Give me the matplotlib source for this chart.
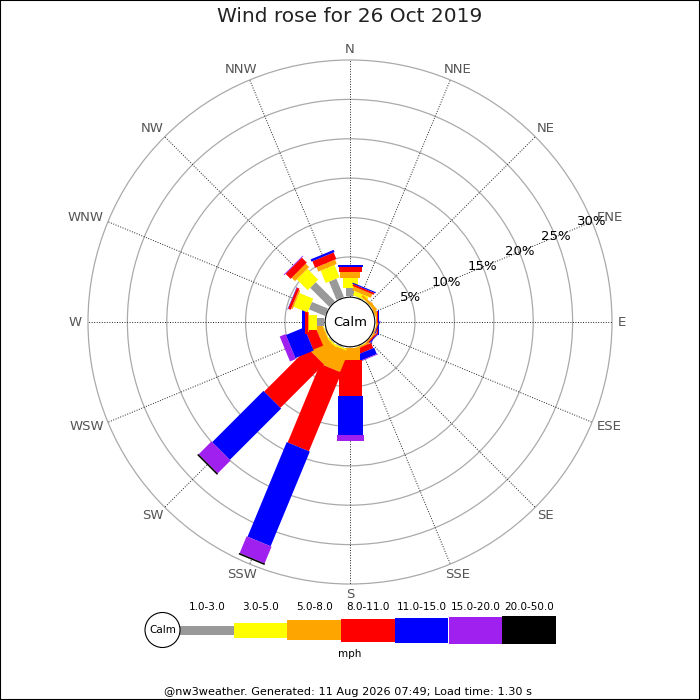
import numpy as np
import matplotlib
matplotlib.use('Agg')
import matplotlib.pyplot as plt
from matplotlib.patches import Rectangle, Circle

# wind rose data, % of time per direction and speed class
directions = ['N', 'NNE', 'NE', 'ENE', 'E', 'ESE', 'SE', 'SSE',
              'S', 'SSW', 'SW', 'WSW', 'W', 'WNW', 'NW', 'NNW']
speed_classes = ['1.0-3.0', '3.0-5.0', '5.0-8.0', '8.0-11.0',
                 '11.0-15.0', '15.0-20.0', '20.0-50.0']
class_colors = ['#999999', '#ffff00', '#ffa500', '#ff0000',
                '#0000ff', '#a020f0', '#000000']

#                  N     NNE   NE    ENE   E     ESE   SE    SSE   S     SSW   SW    WSW   W     WNW   NW    NNW
freq_1_3   = [1.03, 0.05, 0.0,  0.0,  0.0,  0.0,  0.0,  0.0,  0.0,  0.1,  0.1,  0.05, 1.0,  2.2,  3.4,  2.5]
freq_3_5   = [1.27, 0.55, 0.05, 0.0,  0.0,  0.0,  0.0,  0.05, 0.1,  0.2,  0.2,  0.1,  1.0,  1.9,  1.95, 1.7]
freq_5_8   = [0.76, 0.5,  0.3,  0.3,  0.2,  0.15, 0.15, 0.2,  1.5,  2.8,  2.6,  0.9,  0.1,  0.2,  0.6,  0.6]
freq_8_11  = [0.71, 0.25, 0.0,  0.0,  0.1,  0.05, 0.15, 0.7,  4.5,  10.8, 7.8,  1.35, 0.3,  0.35, 0.9,  0.9]
freq_11_15 = [0.2,  0.15, 0.0,  0.0,  0.1,  0.1,  0.1,  0.85, 5.0,  13.0, 9.2,  2.5,  0.4,  0.05, 0.0,  0.3]
freq_15_20 = [0.0,  0.0,  0.0,  0.0,  0.0,  0.0,  0.0,  0.1,  0.7,  2.3,  2.3,  0.8,  0.1,  0.0,  0.1,  0.0]
freq_20_50 = [0.0,  0.0,  0.0,  0.0,  0.0,  0.0,  0.0,  0.0,  0.0,  0.2,  0.2,  0.0,  0.0,  0.0,  0.0,  0.0]
freqs = [freq_1_3, freq_3_5, freq_5_8, freq_8_11, freq_11_15, freq_15_20, freq_20_50]

ring_values = [5, 10, 15, 20, 25, 30]

# geometry (in pixels of a 700x700 figure)
px_per_pct = 7.88
calm_r = 3.25            # radius of the calm hole, in % units
bar_px = [8, 15, 20, 23, 25, 27, 28]

fig = plt.figure(figsize=(7, 7), dpi=100)
ax = fig.add_axes([0, 0, 1, 1])
ax.set_xlim(-350 / px_per_pct, 350 / px_per_pct)
ax.set_ylim(-378 / px_per_pct, 322 / px_per_pct)
ax.set_aspect('equal')
ax.axis('off')
renderer = fig.canvas.get_renderer()

r_out = calm_r + ring_values[-1]
r_lab = 268 / px_per_pct

# grid + direction labels
for v in ring_values:
    ax.add_patch(Circle((0, 0), calm_r + v, fill=False, edgecolor='#aaaaaa', lw=0.9, zorder=1))
for i, d in enumerate(directions):
    phi = np.radians(90 - i * 22.5)
    ux, uy = np.cos(phi), np.sin(phi)
    ax.plot([0, r_out * ux], [0, r_out * uy],
            color='#222222', lw=0.7, linestyle=(0, (1, 1.6)), zorder=1)
    t = ax.text(0, 0, d, ha='center', va='center', fontsize=9.5, color='#555555')
    hw = t.get_window_extent(renderer).width / 2
    # push the label out so its box clears the outer ring
    t.set_position((r_lab * ux + hw * ux / px_per_pct,
                    r_lab * uy + 5 * uy / px_per_pct))

# bars
for i in range(len(directions)):
    phi = np.radians(90 - i * 22.5)
    u = np.array([np.cos(phi), np.sin(phi)])
    n = np.array([-np.sin(phi), np.cos(phi)])
    cum = 0.0
    for k, series in enumerate(freqs):
        val = series[i]
        if val <= 0:
            continue
        w = bar_px[k] / px_per_pct
        xy = (calm_r + cum) * u - w / 2 * n
        ax.add_patch(Rectangle(xy, val, w, angle=np.degrees(phi),
                               facecolor=class_colors[k], edgecolor='none', zorder=2))
        cum += val

# ring labels along ENE
phi_lab = np.radians(90 - 67.5)
for v in ring_values:
    ax.text((calm_r + v) * np.cos(phi_lab), (calm_r + v) * np.sin(phi_lab), f'{v}%',
            ha='center', va='center', fontsize=9.5, color='black', zorder=4)

ax.add_patch(Circle((0, 0), 3.15, facecolor='white', edgecolor='black', lw=0.8, zorder=5))
ax.text(0, 0, 'Calm', ha='center', va='center', fontsize=9.5, zorder=6)

# legend strip, in pixel coordinates
lax = fig.add_axes([140 / 700, 35 / 700, 420 / 700, 70 / 700])
lax.set_xlim(140, 560)
lax.set_ylim(665, 595)
lax.axis('off')
seg_w = 53.7
lefts = [180 + k * seg_w for k in range(len(speed_classes))]
lax.barh([630] * len(speed_classes), [seg_w] * len(speed_classes), left=lefts,
         height=[9, 15, 20, 23, 25, 27, 28], color=class_colors, edgecolor='none')
for k, lab in enumerate(speed_classes):
    lax.text(lefts[k] + seg_w / 2, 607, lab, ha='center', va='center', fontsize=7.5)
lax.add_patch(Circle((162.5, 630), 17.5, facecolor='white', edgecolor='black', lw=0.8))
lax.text(162.5, 630, 'Calm', ha='center', va='center', fontsize=7.5)
lax.text(350, 654, 'mph', ha='center', va='center', fontsize=7.5)

fig.text(0.5, 1 - 17 / 700, 'Wind rose for 26 Oct 2019', ha='center', va='center',
         fontsize=14.5, color='#222222')
fig.text(348 / 700, 1 - 692 / 700,
         '@nw3weather. Generated: 11 Aug 2026 07:49; Load time: 1.30 s',
         ha='center', va='center', fontsize=8.1)
fig.patches.append(Rectangle((0, 0), 1, 1, transform=fig.transFigure, fill=False,
                             edgecolor='black', lw=1.5))

fig.savefig('out.png', dpi=100)
